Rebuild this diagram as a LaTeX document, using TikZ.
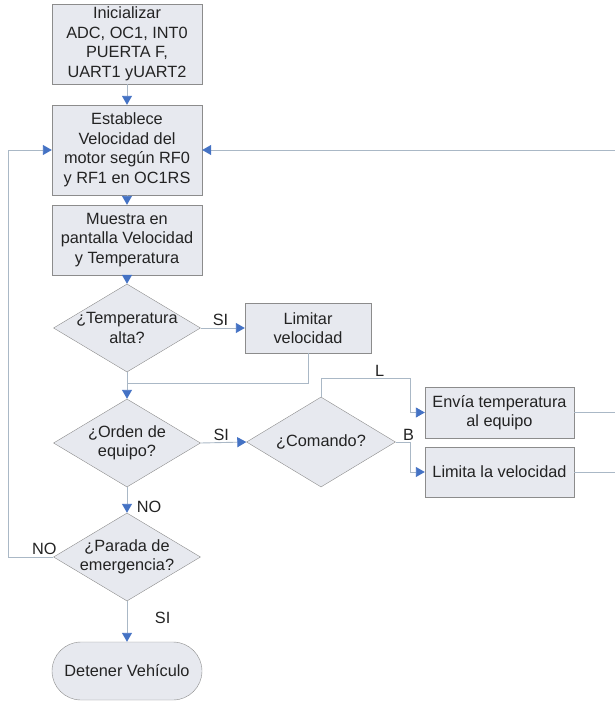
\documentclass[tikz,border=0pt]{standalone}
\usepackage{fontspec}
\setmainfont{Liberation Sans}
\usetikzlibrary{shapes.geometric,shapes.misc,arrows.meta}
\definecolor{boxfill}{RGB}{231,233,239}
\definecolor{boxline}{RGB}{140,140,140}
\definecolor{wire}{RGB}{170,184,198}
\definecolor{tipblue}{RGB}{68,114,196}
\definecolor{ink}{RGB}{35,35,35}

\begin{document}
\begin{tikzpicture}[x=1pt, y=-1pt,
  font=\fontsize{16.3}{19.5}\selectfont, text=ink,
  box/.style = {shape=rectangle, draw=boxline, fill=boxfill,
  align=center, inner sep=0pt, minimum width=150pt},
  dec/.style = {shape=diamond, draw=boxline, fill=boxfill, align=center,
  inner xsep=-25pt, inner ysep=-10pt, minimum width=147pt, minimum height=88pt},
  term/.style = {shape=rounded rectangle, draw=boxline, fill=boxfill,
  inner sep=0pt, minimum width=150pt, minimum height=58pt},
  lin/.style = {draw=wire, line width=0.9pt},
  arr/.style = {lin, -{Triangle[length=9pt, width=10pt, color=tipblue]}},
  lbl/.style = {inner sep=1.5pt}]
  \useasboundingbox (0,0) rectangle (615,701);

  % main column
  \node[box, minimum height=80pt] (init) at (127,44)
      {Inicializar\\ADC, OC1, INT0\\PUERTA F,\\UART1 yUART2};
  \node[box, minimum height=90pt] (estab) at (127,150)
      {Establece\\Velocidad del\\motor según RF0\\y RF1 en OC1RS};
  \node[box, minimum height=70pt] (muestra) at (127,240)
      {Muestra en\\pantalla Velocidad\\y Temperatura};
  \node[dec] (temp) at (127,328) {¿Temperatura\\alta?};
  \node[dec] (orden) at (127,443) {¿Orden de\\equipo?};
  \node[dec] (parada) at (127,557) {¿Parada de\\emergencia?};
  \node[term] (detener) at (127,671) {Detener Vehículo};

  % side branches
  \node[box, minimum width=126pt, minimum height=50pt] (limitar) at (308,328)
      {Limitar\\velocidad};
  \node[dec, minimum width=149pt, minimum height=90pt] (comando) at (321,442)
      {¿Comando?};
  \node[box, minimum width=149pt, minimum height=51pt] (envia) at (499.5,412.5)
      {Envía temperatura\\al equipo};
  \node[box, minimum width=149pt, minimum height=50pt] (limita) at (499.5,472)
      {Limita la velocidad};

  % bends
  \coordinate (jn) at (127,383);
  \coordinate (kL) at (410,378);
  \coordinate (kB) at (410,442);
  \coordinate (lft) at (8,557);
  \coordinate (rTop) at (615,150);
  \coordinate (rEnv) at (615,412.5);
  \coordinate (rLim) at (615,472);

  \draw[arr] (init) -- (estab);
  \draw[arr] (estab) -- (muestra);
  \draw[arr] (muestra) -- (temp);
  % temperatura alta
  \draw[arr] (temp.east) -- node[lbl, above, pos=0.45] {SI} (limitar.west);
  \draw[lin] (limitar.south) |- (jn);
  \draw[arr] (temp.south) -- (orden.north);
  % orden de equipo
  \draw[arr] (orden.east) -- node[lbl, above, pos=0.45] {SI} (comando.west);
  \draw[arr] (comando.north) |- node[lbl, above, pos=0.83] {L} (kL) |- (envia.west);
  \draw[arr] (comando.east) -- node[lbl, above, pos=0.9] {B} (kB) |- (limita.west);
  \draw[arr] (orden.south) -- node[lbl, right, pos=0.75, xshift=8pt] {NO} (parada.north);
  % parada de emergencia
  \draw[arr] (parada.west) -- node[lbl, above, pos=0.2] {NO} (lft) |- (estab.west);
  \draw[arr] (parada.south) -- node[lbl, right, pos=0.4, xshift=26pt] {SI} (detener.north);
  % back to top
  \draw[lin] (envia.east) -- (rEnv);
  \draw[lin] (limita.east) -- (rLim);
  \draw[arr] (rTop) -- (estab.east);
\end{tikzpicture}
\end{document}
